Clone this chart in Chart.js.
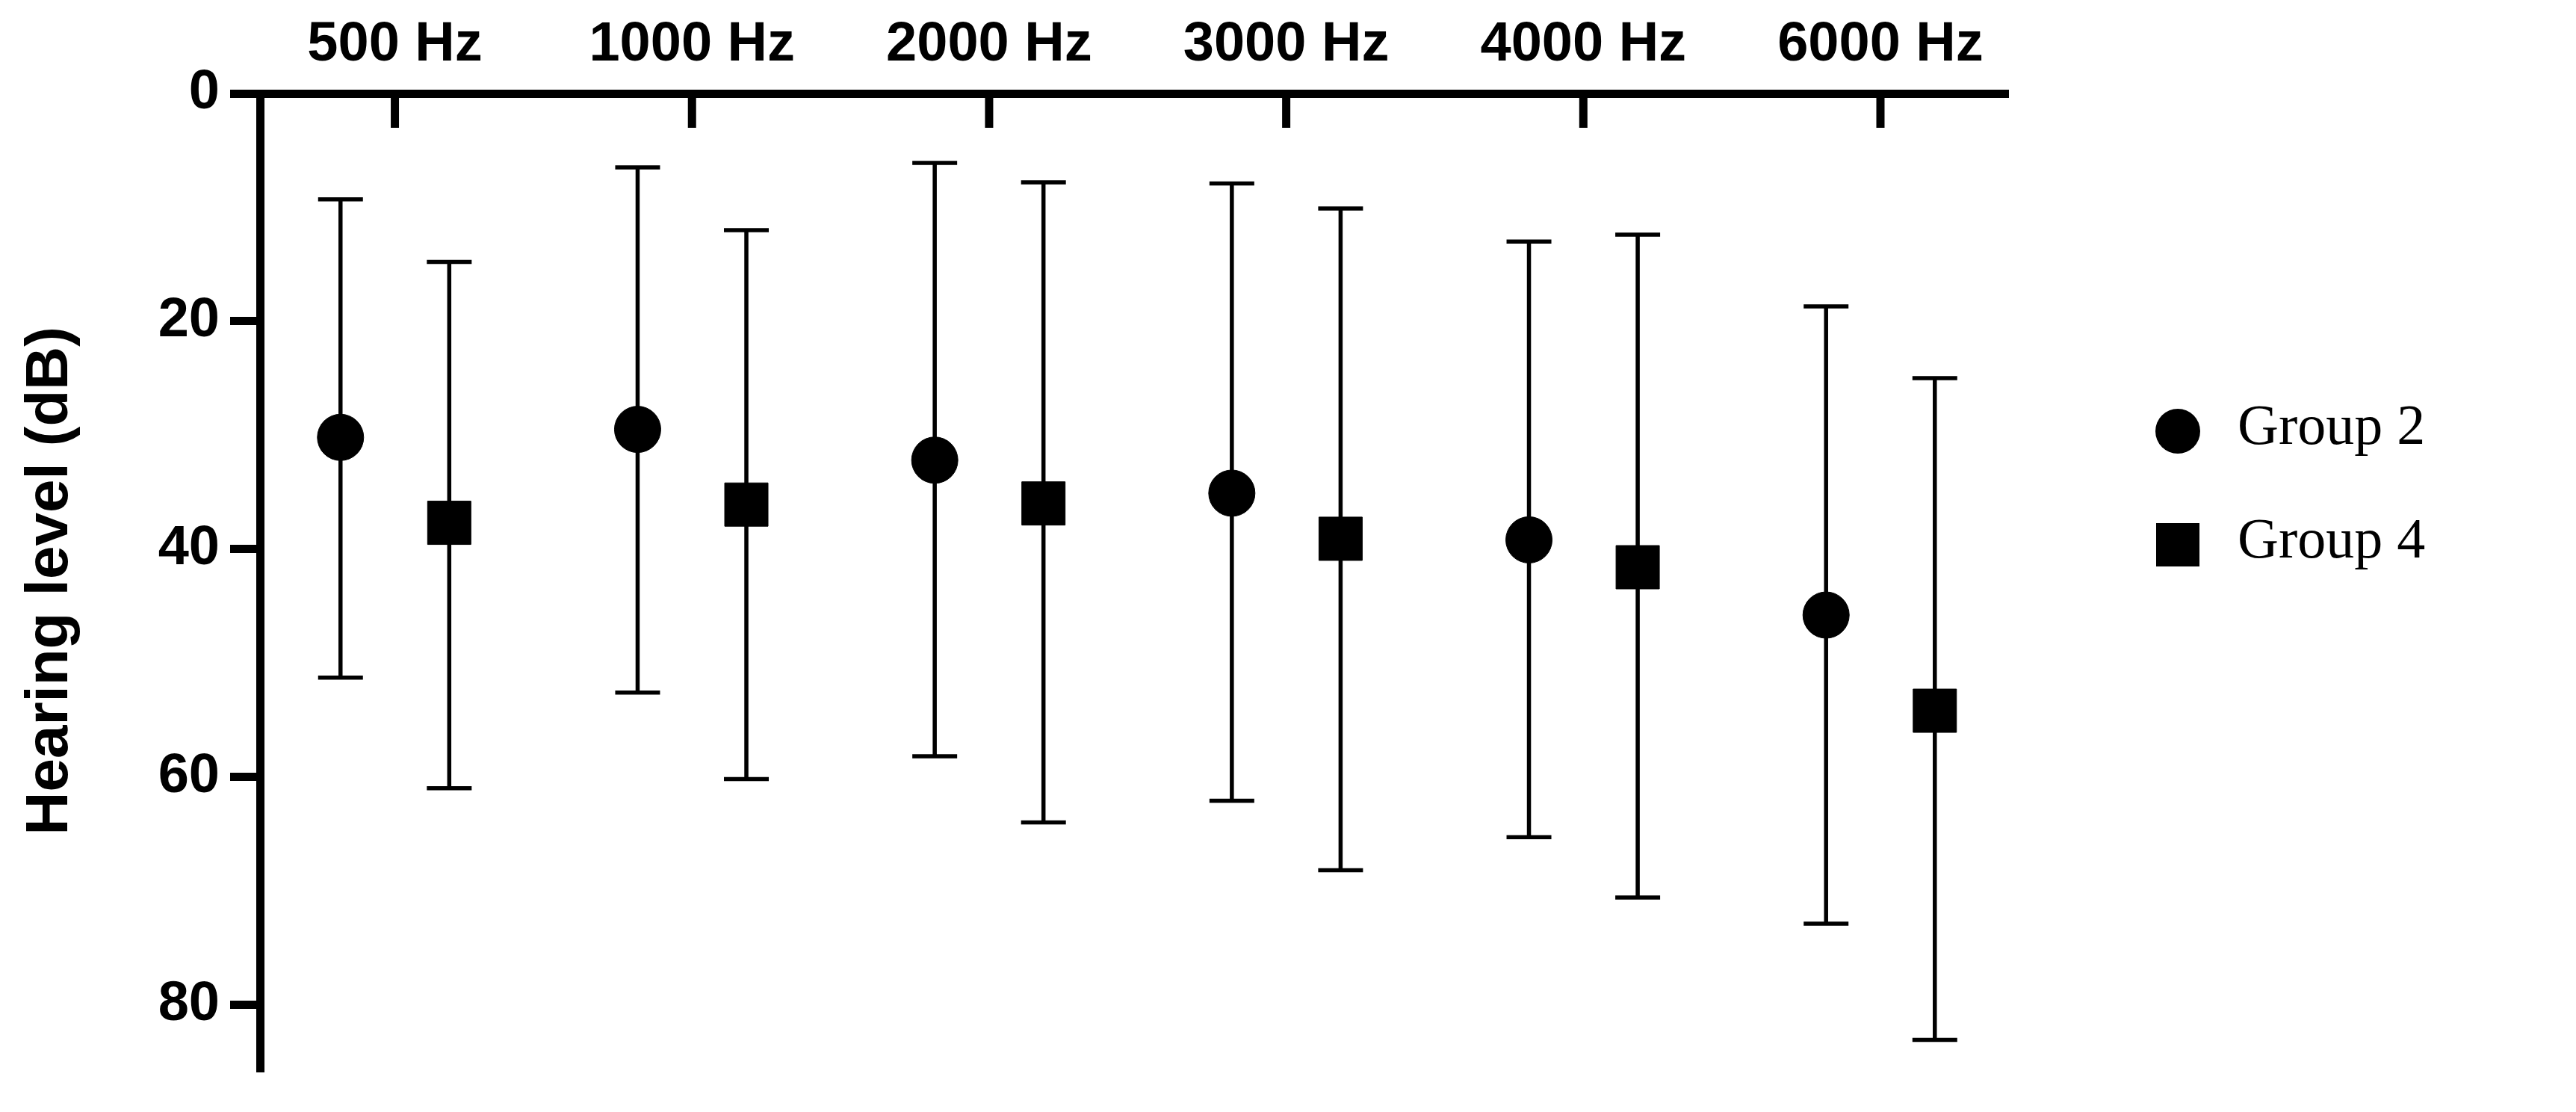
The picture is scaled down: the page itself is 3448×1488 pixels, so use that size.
<!DOCTYPE html>
<html>
<head>
<meta charset="utf-8">
<script src="https://cdn.jsdelivr.net/npm/chart.js@4.4.1/dist/chart.umd.min.js"></script>
<style>
  html, body { margin: 0; padding: 0; background: #fff; }
  #wrap { position: relative; width: 3448px; height: 1488px; }
  .legend { position: absolute; left: 2880px; font-family: "Liberation Serif", serif; font-size: 76px; color: #000; }
  .legend canvas { vertical-align: middle; }
</style>
</head>
<body>
<div id="wrap">
  <canvas id="chart" width="3448" height="1488"></canvas>
</div>
<script>
const frequencies = ["500 Hz", "1000 Hz", "2000 Hz", "3000 Hz", "4000 Hz", "6000 Hz"];
const yTicks = [0, 20, 40, 60, 80];

const group2Mean = [30.2, 29.5, 32.2, 35.1, 39.2, 45.8];
const group2Low  = [9.3, 6.5, 6.1, 7.9, 13.0, 18.7];
const group2High = [51.3, 52.6, 58.2, 62.1, 65.3, 72.9];

const group4Mean = [37.7, 36.1, 36.0, 39.1, 41.6, 54.2];
const group4Low  = [14.8, 12.0, 7.8, 10.1, 12.4, 25.0];
const group4High = [61.0, 60.2, 64.0, 68.2, 70.6, 83.1];

const OFFSET = 0.183;

// error bars drawn through the scales
const errorBars = {
    id: "errorBars",
    beforeDatasetsDraw(chart) {
        const { ctx, scales: { x, y } } = chart;
        ctx.save();
        ctx.strokeStyle = "#000";
        ctx.lineWidth = 5.5;
        const cap = 30;
        const draw = (means, lows, highs, off) => {
            means.forEach((m, i) => {
                const px = x.getPixelForValue(i + off);
                const top = y.getPixelForValue(lows[i]);
                const bot = y.getPixelForValue(highs[i]);
                ctx.beginPath();
                ctx.moveTo(px, top); ctx.lineTo(px, bot);
                ctx.moveTo(px - cap, top); ctx.lineTo(px + cap, top);
                ctx.moveTo(px - cap, bot); ctx.lineTo(px + cap, bot);
                ctx.stroke();
            });
        };
        draw(group2Mean, group2Low, group2High, -OFFSET);
        draw(group4Mean, group4Low, group4High, OFFSET);
        ctx.restore();
    },
    afterDraw(chart) {
        // tick marks pointing down into the plot from the top axis
        const { ctx, scales: { x, y } } = chart;
        ctx.save();
        ctx.strokeStyle = "#000";
        ctx.lineWidth = 11;
        const y0 = y.getPixelForValue(0);
        frequencies.forEach((f, i) => {
            const px = x.getPixelForValue(i);
            ctx.beginPath();
            ctx.moveTo(px, y0);
            ctx.lineTo(px, y0 + 46);
            ctx.stroke();
        });
        ctx.restore();
    }
};

new Chart(document.getElementById("chart"), {
    type: "scatter",
    data: {
        datasets: [
            {
                label: "Group 2",
                data: group2Mean.map((v, i) => ({ x: i - OFFSET, y: v })),
                pointStyle: "circle",
                pointRadius: 31,
                backgroundColor: "#000",
                borderColor: "#000",
            },
            {
                label: "Group 4",
                data: group4Mean.map((v, i) => ({ x: i + OFFSET, y: v })),
                pointStyle: "rect",
                pointRadius: 41,
                backgroundColor: "#000",
                borderColor: "#000",
            },
        ],
    },
    options: {
        responsive: false,
        animation: false,
        devicePixelRatio: 1,
        layout: { padding: { right: 760, bottom: -20 } },
        plugins: { legend: { display: false }, tooltip: { enabled: false } },
        scales: {
            x: {
                type: "linear",
                position: "top",
                min: -0.454,
                max: 5.43,
                afterBuildTicks: s => { s.ticks = frequencies.map((f, i) => ({ value: i })); },
                afterFit: s => { s.height = 125; },
                ticks: {
                    callback: v => frequencies[v],
                    color: "#000",
                    font: { family: "Liberation Sans", weight: "bold", size: 74 },
                    padding: 12,
                    maxRotation: 0,
                },
                grid: { display: false },
                border: { color: "#000", width: 11 },
            },
            y: {
                reverse: true,
                min: 0,
                max: 85.6,
                afterBuildTicks: s => { s.ticks = yTicks.map(v => ({ value: v })); },
                afterFit: s => { s.width = 348; },
                ticks: {
                    color: "#000",
                    font: { family: "Liberation Sans", weight: "bold", size: 74 },
                    padding: 14,
                },
                grid: { drawOnChartArea: false, drawTicks: true, tickLength: 40, lineWidth: 11, color: "#000" },
                border: { color: "#000", width: 11 },
                title: {
                    display: true,
                    text: "Hearing level (dB)",
                    color: "#000",
                    font: { family: "Liberation Sans", weight: "bold", size: 80 },
                    padding: { top: 20, bottom: 10 },
                },
            },
        },
    },
    plugins: [errorBars],
});

// legend
const wrap = document.getElementById("wrap");
[["Group 2", "circle", 580], ["Group 4", "rect", 732]].forEach(([name, shape, top]) => {
    const div = document.createElement("div");
    div.className = "legend";
    div.style.top = (top - 55) + "px";
    const c = document.createElement("canvas");
    c.width = 70; c.height = 70;
    const g = c.getContext("2d");
    g.fillStyle = "#000";
    if (shape === "circle") { g.beginPath(); g.arc(35, 35, 30, 0, Math.PI * 2); g.fill(); }
    else g.fillRect(6, 6, 58, 58);
    div.appendChild(c);
    const span = document.createElement("span");
    span.style.marginLeft = "45px";
    span.textContent = name;
    div.appendChild(span);
    wrap.appendChild(div);
});
</script>
</body>
</html>
